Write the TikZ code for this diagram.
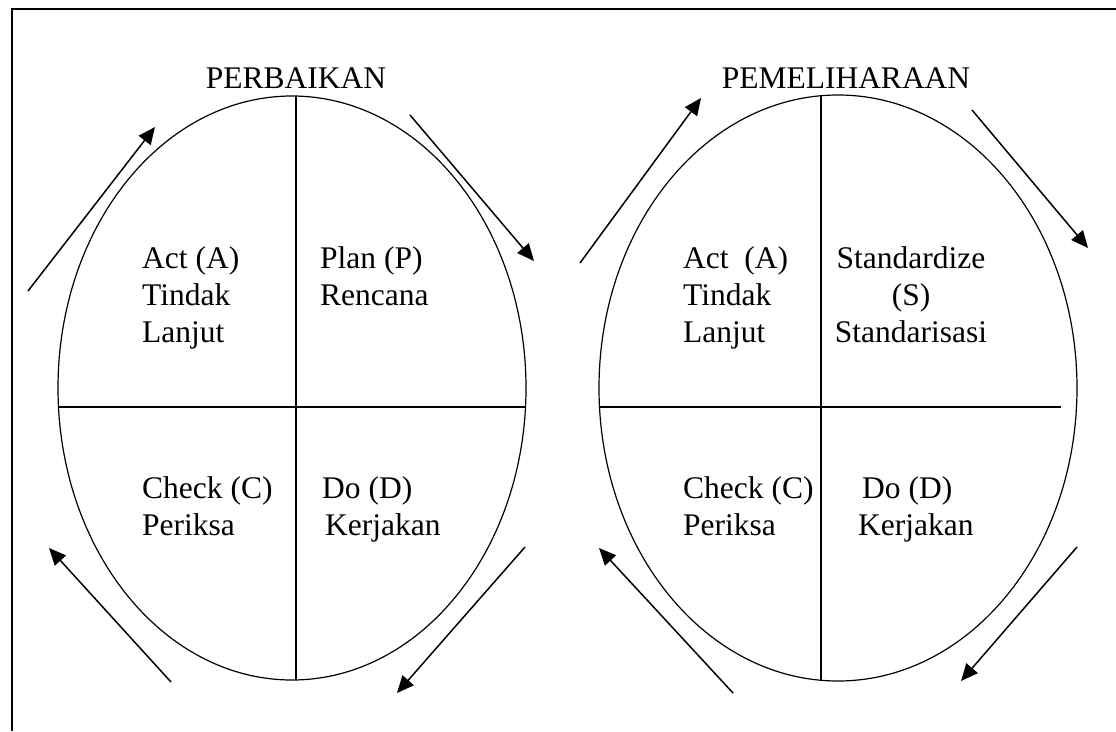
\documentclass[tikz,border=0pt]{standalone}
\usepackage{fontspec}
\setmainfont{Liberation Serif}
\usepackage{tikz}
\usetikzlibrary{arrows.meta,positioning,shapes.geometric}

\begin{document}
\begin{tikzpicture}[x=1pt,y=-1pt, every node/.style={font=\fontsize{31.5}{37}\selectfont}, lbl/.style={inner sep=0pt,align=left,anchor=north west}, oval/.style={draw,ellipse,line width=1.2pt,inner sep=0pt}, div/.style={line width=1.2pt}, arr/.style={line width=1.5pt,-{Triangle[length=17pt,width=15pt]}}]
\useasboundingbox (0,0) rectangle (1116,731);
\draw[line width=2pt] (12,731) -- (12,9) -- (1116,9);
% siklus PDCA
\node[oval,minimum width=468pt,minimum height=584pt] (kiri) at (292,388) {};
\draw[div] (296,96) -- (296,680);\draw[div] (58.5,407) -- (525.5,407);
\node[anchor=base] (judulkiri) at (296,88) {PERBAIKAN};
\node[lbl] (act) at (142,246) {Act (A)\\Tindak\\Lanjut};
\node[lbl] (plan) at (320,246) {Plan (P)\\Rencana};
\node[lbl] (check) at (142,476) {Check (C)\\Periksa};
\node[lbl] (do) at (322,476) {Do (D)\\\hspace{3pt}Kerjakan};
% siklus SDCA
\node[oval,minimum width=478pt,minimum height=586pt] (kanan) at (838,388) {};
\draw[div] (821,96) -- (821,680);\draw[div] (599.5,407) -- (1061,407);
\node[anchor=base] (judulkanan) at (846,88) {PEMELIHARAAN};
\node[lbl] (act2) at (683,246) {Act\ \ (A)\\Tindak\\Lanjut};
\node[lbl,align=center,anchor=north] (std) at (911,246) {Standardize\\(S)\\Standarisasi};
\node[lbl] (check2) at (683,476) {Check (C)\\Periksa};
\node[lbl] (do2) at (862,476) {Do (D)\\\hspace{-4pt}Kerjakan};
% panah putaran
\coordinate (p1) at (28,291);\coordinate (q1) at (155,127);
\coordinate (p2) at (410,115);\coordinate (q2) at (534,261);
\coordinate (p3) at (525,547);\coordinate (q3) at (397,693);
\coordinate (p4) at (171,682);\coordinate (q4) at (49,548);
\coordinate (p5) at (580,263);\coordinate (q5) at (701,98);
\coordinate (p6) at (972,110);\coordinate (q6) at (1088,248);
\coordinate (p7) at (1077,547);\coordinate (q7) at (961,681);
\coordinate (p8) at (733,693);\coordinate (q8) at (599,548);
\draw[arr] (p1)--(q1);\draw[arr] (p2)--(q2);\draw[arr] (p3)--(q3);\draw[arr] (p4)--(q4);
\draw[arr] (p5)--(q5);\draw[arr] (p6)--(q6);\draw[arr] (p7)--(q7);\draw[arr] (p8)--(q8);
\end{tikzpicture}
\end{document}
